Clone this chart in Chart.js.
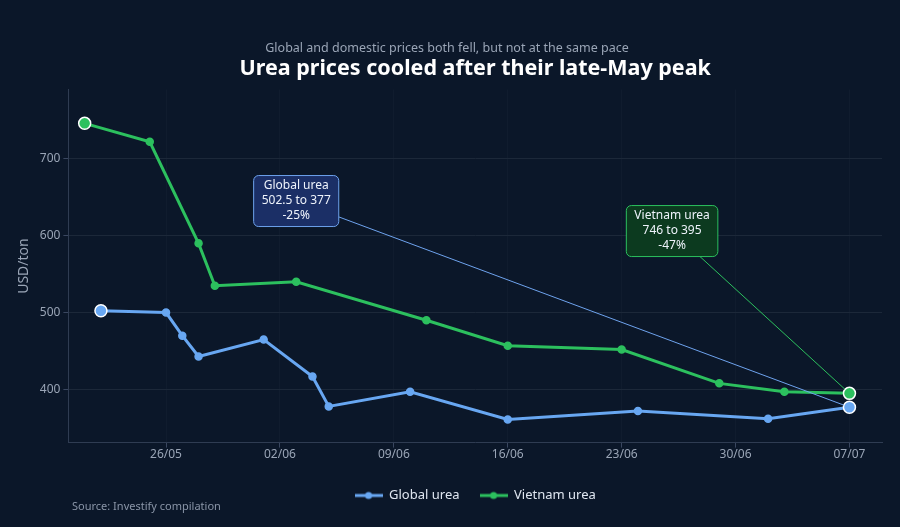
<!DOCTYPE html>
<html>
<head>
<meta charset="utf-8">
<title>Urea prices</title>
<script src="https://cdn.jsdelivr.net/npm/chart.js@4.4.1/dist/chart.umd.min.js"></script>
<style>
    html, body { margin: 0; padding: 0; background: #0b1729; }
    #wrap { width: 900px; height: 527px; position: relative; }
</style>
</head>
<body>
<div id="wrap"><canvas id="ureaChart"></canvas></div>
<script>
// Data (dd/mm)
const globalDates = ['22/05', '26/05', '27/05', '28/05', '01/06', '04/06', '05/06', '10/06', '16/06', '24/06', '02/07', '07/07'];
const globalValues = [502.5, 500, 470, 443, 465, 417, 378, 397, 361, 372, 362, 377];
const vietnamDates = ['21/05', '25/05', '28/05', '29/05', '03/06', '11/06', '16/06', '23/06', '29/06', '03/07', '07/07'];
const vietnamValues = [746, 722, 590, 535, 540, 490, 457, 452, 408, 397, 395];
const tickLabels = ['26/05', '02/06', '09/06', '16/06', '23/06', '30/06', '07/07'];

const BLUE = '#68a7f2';
const GREEN = '#2cc05e';
const TEXT = '#9aa5b6';

// day offset from the first tick label
function dayOf(label) {
    const [d, m] = label.split('/').map(Number);
    const [d0, m0] = tickLabels[0].split('/').map(Number);
    return (Date.UTC(2025, m - 1, d) - Date.UTC(2025, m0 - 1, d0)) / 86400000;
}

function toPoints(dates, values) {
    return dates.map((d, i) => ({ x: dayOf(d), y: values[i] }));
}

const tickDays = tickLabels.map(dayOf);

function legendIcon(color) {
    const c = document.createElement('canvas');
    c.width = 28; c.height = 10;
    const g = c.getContext('2d');
    g.strokeStyle = color; g.lineWidth = 3;
    g.beginPath(); g.moveTo(0, 5); g.lineTo(28, 5); g.stroke();
    g.fillStyle = color;
    g.beginPath(); g.arc(14, 5, 3.5, 0, Math.PI * 2); g.fill();
    return c;
}
const icons = [legendIcon(BLUE), legendIcon(GREEN)];

// end points are bigger with a white rim
const endRadius = ctx => (ctx.dataIndex === 0 || ctx.dataIndex === ctx.dataset.data.length - 1) ? 6 : 3.5;
const endBorder = ctx => (ctx.dataIndex === 0 || ctx.dataIndex === ctx.dataset.data.length - 1) ? '#ffffff' : ctx.dataset.borderColor;

function changeLines(name, values) {
    const first = values[0], last = values[values.length - 1];
    const pct = Math.round((last - first) / first * 100);
    return [name, `${first} to ${last}`, `${pct}%`];
}

const backgroundPlugin = {
    id: 'bg',
    beforeDraw(chart) {
        const { ctx, width, height } = chart;
        ctx.save();
        ctx.fillStyle = '#0b1729';
        ctx.fillRect(0, 0, width, height);
        ctx.restore();
    }
};

const calloutPlugin = {
    id: 'callouts',
    afterDatasetsDraw(chart, args, opts) {
        const { ctx } = chart;
        const x = chart.scales.x, y = chart.scales.y;
        opts.items.forEach(item => {
            const ds = chart.data.datasets[item.dataset];
            const last = ds.data[ds.data.length - 1];
            const px = x.getPixelForValue(last.x), py = y.getPixelForValue(last.y);
            const cx = x.getPixelForValue(item.at[0]), cy = y.getPixelForValue(item.at[1]);
            ctx.save();
            ctx.font = '12px "Noto Sans"';
            const w = Math.max(...item.lines.map(l => ctx.measureText(l).width)) + 16;
            const h = item.lines.length * 15 + 6;
            const dx = px - cx, dy = py - cy;
            const len = Math.hypot(dx, dy);
            const t = Math.min((w / 2) / Math.abs(dx), (h / 2) / Math.abs(dy));
            const tEnd = 1 - 6 / len;
            ctx.strokeStyle = item.border;
            ctx.lineWidth = 1;
            ctx.beginPath();
            ctx.moveTo(cx + dx * t, cy + dy * t);
            ctx.lineTo(cx + dx * tEnd, cy + dy * tEnd);
            ctx.stroke();
            ctx.beginPath();
            ctx.roundRect(cx - w / 2, cy - h / 2, w, h, 5);
            ctx.fillStyle = item.fill;
            ctx.fill();
            ctx.stroke();
            ctx.fillStyle = '#eef3fb';
            ctx.textAlign = 'center';
            ctx.textBaseline = 'middle';
            item.lines.forEach((l, i) => ctx.fillText(l, cx, cy - h / 2 + 3 + 7.5 + i * 15));
            ctx.restore();
        });
    }
};

const sourcePlugin = {
    id: 'source',
    afterDraw(chart) {
        const { ctx } = chart;
        ctx.save();
        ctx.font = '11px "Noto Sans"';
        ctx.fillStyle = '#8a95a7';
        ctx.textBaseline = 'middle';
        ctx.fillText('Source: Investify compilation', 72, 507);
        ctx.restore();
    }
};

const ctx = document.getElementById('ureaChart').getContext('2d');
new Chart(ctx, {
    type: 'line',
    data: {
        datasets: [{
            label: 'Global urea',
            data: toPoints(globalDates, globalValues),
            borderColor: BLUE,
            backgroundColor: BLUE,
            borderWidth: 3,
            pointRadius: endRadius,
            pointBorderColor: endBorder,
            pointBorderWidth: 1.5,
            tension: 0
        }, {
            label: 'Vietnam urea',
            data: toPoints(vietnamDates, vietnamValues),
            borderColor: GREEN,
            backgroundColor: GREEN,
            borderWidth: 3,
            pointRadius: endRadius,
            pointBorderColor: endBorder,
            pointBorderWidth: 1.5,
            tension: 0
        }]
    },
    options: {
        responsive: true,
        maintainAspectRatio: false,
        animation: false,
        layout: { padding: { left: 12, right: 18, top: 0, bottom: 15 } },
        scales: {
            x: {
                type: 'linear',
                min: -6,
                max: 44,
                afterBuildTicks: axis => { axis.ticks = tickDays.map(v => ({ value: v })); },
                afterFit: axis => { axis.height += 7; },
                ticks: {
                    color: TEXT,
                    font: { family: 'Noto Sans', size: 12 },
                    padding: 0,
                    callback: value => tickLabels[tickDays.indexOf(value)]
                },
                grid: { color: 'rgba(255,255,255,0.025)', tickColor: '#3a4760', tickLength: 5 },
                border: { color: '#2f3c52' }
            },
            y: {
                min: 331,
                max: 790,
                afterBuildTicks: axis => { axis.ticks = [400, 500, 600, 700].map(v => ({ value: v })); },
                ticks: {
                    color: TEXT,
                    font: { family: 'Noto Sans', size: 12 },
                    padding: 3
                },
                grid: { color: '#1c2839', tickColor: '#3a4760', tickLength: 5 },
                border: { color: '#2f3c52' },
                title: {
                    display: true,
                    text: 'USD/ton',
                    color: TEXT,
                    font: { family: 'Noto Sans', size: 14 }
                }
            }
        },
        plugins: {
            title: {
                display: true,
                text: 'Global and domestic prices both fell, but not at the same pace',
                color: TEXT,
                font: { family: 'Noto Sans', size: 12.5, weight: 'normal' },
                padding: { top: 41, bottom: 0 }
            },
            subtitle: {
                display: true,
                fullSize: false,
                text: 'Urea prices cooled after their late-May peak',
                color: '#ffffff',
                font: { family: 'Noto Sans', size: 21.5, weight: 'bold', lineHeight: 1 },
                padding: { top: 2, bottom: 10 }
            },
            legend: {
                position: 'bottom',
                fullSize: false,
                labels: {
                    color: '#dfe6f0',
                    font: { family: 'Noto Sans', size: 13 },
                    usePointStyle: true,
                    pointStyleWidth: 28,
                    padding: 20,
                    generateLabels(chart) {
                        const items = Chart.defaults.plugins.legend.labels.generateLabels(chart);
                        items.forEach((it, i) => { it.pointStyle = icons[i]; });
                        return items;
                    }
                }
            },
            tooltip: { enabled: false },
            callouts: {
                items: [
                    { dataset: 0, at: [8, 645], lines: changeLines('Global urea', globalValues), fill: '#1b2f66', border: '#6ea3ee' },
                    { dataset: 1, at: [31.1, 606], lines: changeLines('Vietnam urea', vietnamValues), fill: '#0c3a1f', border: '#2cc05e' }
                ]
            }
        }
    },
    plugins: [backgroundPlugin, calloutPlugin, sourcePlugin]
});
</script>
</body>
</html>
